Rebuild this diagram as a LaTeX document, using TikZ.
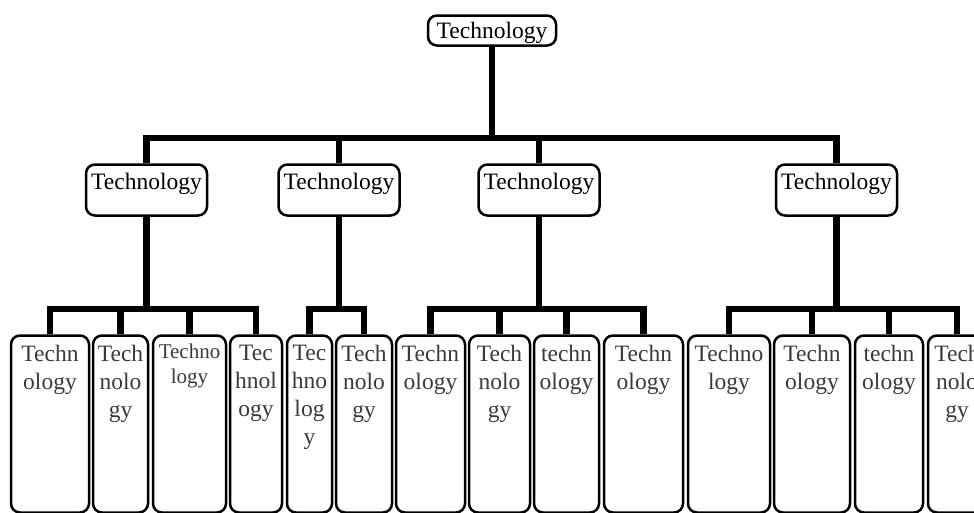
\documentclass[tikz,border=0pt]{standalone}
\usepackage{fontspec}
\setmainfont{Liberation Serif}
\definecolor{leafgray}{HTML}{3A3A3A}
\begin{document}
\begin{tikzpicture}[x=1pt,y=-1pt,
  box/.style={draw=black, line width=2.5pt, rounded corners=9pt, inner sep=0pt, anchor=north},
  leafbox/.style={box, minimum height=177pt},
  midbox/.style={box, minimum width=121pt, minimum height=51pt},
  conn/.style={line width=6.5pt},
  bigtext/.style={font=\fontsize{23.5}{28}\selectfont, inner sep=0pt, text=black},
  leaftext/.style={font=\fontsize{23.5}{28}\selectfont, inner sep=0pt, align=center, anchor=north, text=leafgray},
  smalltext/.style={font=\fontsize{21}{25}\selectfont, inner sep=0pt, align=center, anchor=north, text=leafgray}]
\clip (0,0) rectangle (974,512);
\useasboundingbox (0,0) rectangle (974,512);

% root
\node[box, minimum width=128pt, minimum height=30pt] (root) at (492,14.25) {};
\node[bigtext, anchor=base] (roott) at (492,38) {Technology};

% level 2
\node[midbox] (m1) at (146.5,163.25) {};
\node[midbox] (m2) at (339,163.25) {};
\node[midbox] (m3) at (539,163.25) {};
\node[midbox] (m4) at (836.5,163.25) {};
\node[bigtext, anchor=base] (m1t) at (146.5,189) {Technology};
\node[bigtext, anchor=base] (m2t) at (339,189) {Technology};
\node[bigtext, anchor=base] (m3t) at (539,189) {Technology};
\node[bigtext, anchor=base] (m4t) at (836.5,189) {Technology};

% level 3 boxes
\node[leafbox, minimum width=78pt] (b1) at (50,334.25) {};
\node[leafbox, minimum width=55pt] (b2) at (120.5,334.25) {};
\node[leafbox, minimum width=73pt] (b3) at (189.5,334.25) {};
\node[leafbox, minimum width=52pt] (b4) at (256,334.25) {};
\node[leafbox, minimum width=45pt] (b5) at (309.5,334.25) {};
\node[leafbox, minimum width=56pt] (b6) at (364,334.25) {};
\node[leafbox, minimum width=69pt] (b7) at (430.5,334.25) {};
\node[leafbox, minimum width=61pt] (b8) at (499.5,334.25) {};
\node[leafbox, minimum width=65pt] (b9) at (566.5,334.25) {};
\node[leafbox, minimum width=79pt] (b10) at (643.5,334.25) {};
\node[leafbox, minimum width=82pt] (b11) at (729,334.25) {};
\node[leafbox, minimum width=76pt] (b12) at (812,334.25) {};
\node[leafbox, minimum width=68pt] (b13) at (889,334.25) {};
\node[leafbox, minimum width=58pt] (b14) at (957,334.25) {};

% level 3 texts
\node[leaftext] (t1) at (50,345) {Techn\\ology};
\node[leaftext] (t2) at (120.5,345) {Tech\\nolo\\gy};
\node[smalltext] (t3) at (189.5,344) {Techno\\logy};
\node[leaftext] (t4) at (256,345) {Tec\\hnol\\ogy};
\node[leaftext] (t5) at (309.5,345) {Tec\\hno\\log\\y};
\node[leaftext] (t6) at (364,345) {Tech\\nolo\\gy};
\node[leaftext] (t7) at (430.5,345) {Techn\\ology};
\node[leaftext] (t8) at (499.5,345) {Tech\\nolo\\gy};
\node[leaftext] (t9) at (566.5,345) {techn\\ology};
\node[leaftext] (t10) at (643.5,345) {Techn\\ology};
\node[leaftext] (t11) at (729,345) {Techno\\logy};
\node[leaftext] (t12) at (812,345) {Techn\\ology};
\node[leaftext] (t13) at (889,345) {techn\\ology};
\node[leaftext] (t14) at (957,345) {Tech\\nolo\\gy};

% connectors
\coordinate (bar0) at (0,138);
\coordinate (bar1) at (0,309);

\draw[conn] (root.south) -- (root.south |- bar0);
\draw[conn] (m1.north) |- (m4.north |- bar0) -- (m4.north);
\draw[conn] (m2.north) -- (m2.north |- bar0);
\draw[conn] (m3.north) -- (m3.north |- bar0);

% group 1
\draw[conn] (m1.south) -- (m1.south |- bar1);
\draw[conn] (b1.north) |- (b4.north |- bar1) -- (b4.north);
\draw[conn] (b2.north) -- (b2.north |- bar1);
\draw[conn] (b3.north) -- (b3.north |- bar1);

% group 2
\draw[conn] (m2.south) -- (m2.south |- bar1);
\draw[conn] (b5.north) |- (b6.north |- bar1) -- (b6.north);

% group 3
\draw[conn] (m3.south) -- (m3.south |- bar1);
\draw[conn] (b7.north) |- (b10.north |- bar1) -- (b10.north);
\draw[conn] (b8.north) -- (b8.north |- bar1);
\draw[conn] (b9.north) -- (b9.north |- bar1);

% group 4
\draw[conn] (m4.south) -- (m4.south |- bar1);
\draw[conn] (b11.north) |- (b14.north |- bar1) -- (b14.north);
\draw[conn] (b12.north) -- (b12.north |- bar1);
\draw[conn] (b13.north) -- (b13.north |- bar1);
\end{tikzpicture}
\end{document}
